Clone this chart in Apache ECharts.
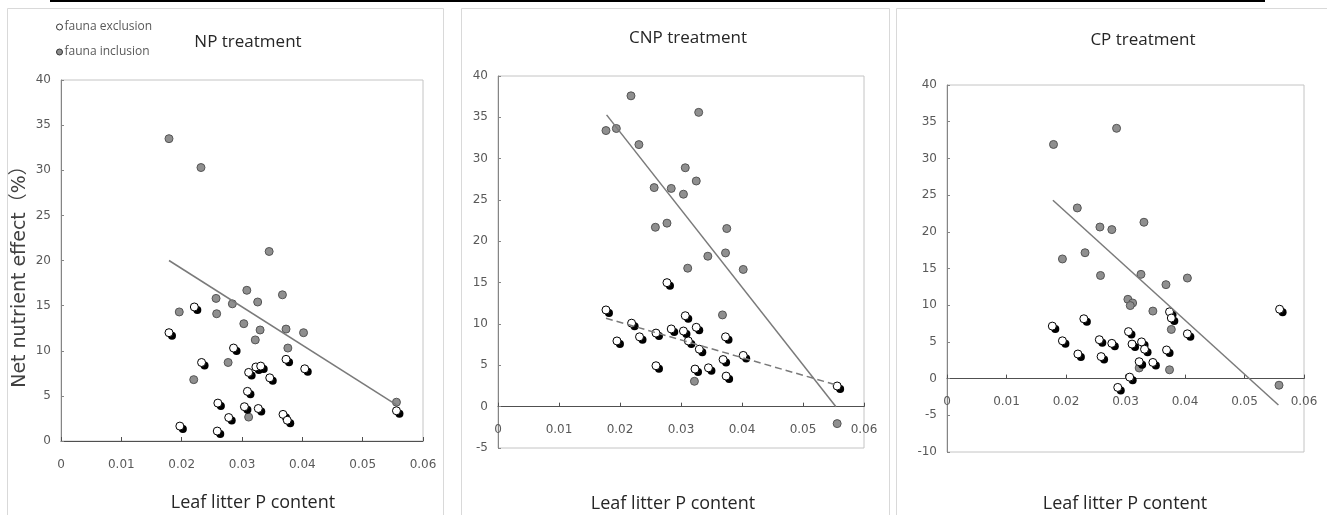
<!DOCTYPE html>
<html>
<head>
<meta charset="utf-8">
<script src="https://cdn.jsdelivr.net/npm/echarts@6/dist/echarts.min.js"></script>
<style>
  html, body { margin: 0; padding: 0; background: #fff; }
  #chart { width: 1327px; height: 515px; }
</style>
</head>
<body>
<div id="chart"></div>
<script>
// Leaf litter P content (x) vs net nutrient effect in % (y)
const panelTitles = ['NP treatment', 'CNP treatment', 'CP treatment'];
const xTitle = 'Leaf litter P content';
const yTitle = 'Net nutrient effect（%）';
const seriesNames = ['fauna exclusion', 'fauna inclusion'];

// NP treatment
const npInclusion = [
  [0.0179, 33.5], [0.0232, 30.3], [0.0345, 21.0], [0.0308, 16.7], [0.0257, 15.8],
  [0.0367, 16.2], [0.0196, 14.3], [0.0258, 14.1], [0.0284, 15.2], [0.0326, 15.4],
  [0.0303, 13.0], [0.0330, 12.3], [0.0373, 12.4], [0.0402, 12.0], [0.0322, 11.2],
  [0.0376, 10.3], [0.0277, 8.7], [0.0220, 6.8], [0.0556, 4.3], [0.0311, 2.65]
];
const npExclusion = [
  [0.0179, 12.0], [0.0221, 14.85], [0.0286, 10.3], [0.0233, 8.7], [0.0311, 7.6],
  [0.0323, 8.2], [0.0331, 8.3], [0.0346, 7.0], [0.0373, 9.05], [0.0404, 8.0],
  [0.0309, 5.5], [0.0260, 4.2], [0.0304, 3.8], [0.0327, 3.6], [0.0278, 2.6],
  [0.0368, 2.95], [0.0375, 2.3], [0.0197, 1.65], [0.0259, 1.1], [0.0556, 3.35]
];
const npInclusionFit = [[0.0179, 20.0], [0.0556, 4.0]];

// CNP treatment
const cnpInclusion = [
  [0.0177, 33.4], [0.0194, 33.65], [0.0218, 37.6], [0.0329, 35.6], [0.0231, 31.7],
  [0.0307, 28.9], [0.0325, 27.3], [0.0256, 26.5], [0.0284, 26.4], [0.0304, 25.7],
  [0.0258, 21.7], [0.0277, 22.2], [0.0375, 21.55], [0.0373, 18.6], [0.0344, 18.2],
  [0.0311, 16.75], [0.0402, 16.6], [0.0368, 11.1], [0.0322, 3.07], [0.0556, -2.05]
];
const cnpExclusion = [
  [0.0177, 11.7], [0.0277, 15.0], [0.0219, 10.1], [0.0195, 7.95], [0.0232, 8.45],
  [0.0259, 8.9], [0.0284, 9.4], [0.0304, 9.15], [0.0307, 11.0], [0.0325, 9.6],
  [0.0312, 7.95], [0.0330, 6.95], [0.0373, 8.45], [0.0402, 6.2], [0.0369, 5.7],
  [0.0259, 4.95], [0.0323, 4.55], [0.0345, 4.7], [0.0374, 3.7], [0.0556, 2.5]
];
const cnpInclusionFit = [[0.0178, 35.3], [0.0554, 0.0]];
const cnpExclusionFit = [[0.0177, 10.7], [0.0556, 2.6]];

// CP treatment
const cpInclusion = [
  [0.0179, 31.9], [0.0285, 34.1], [0.0219, 23.25], [0.0257, 20.65], [0.0277, 20.3],
  [0.0331, 21.3], [0.0194, 16.3], [0.0232, 17.15], [0.0258, 14.05], [0.0326, 14.2],
  [0.0368, 12.8], [0.0404, 13.7], [0.0304, 10.8], [0.0312, 10.3], [0.0308, 9.95],
  [0.0346, 9.2], [0.0377, 6.7], [0.0323, 1.45], [0.0374, 1.2], [0.0558, -0.9]
];
const cpExclusion = [
  [0.0177, 7.15], [0.0194, 5.15], [0.0230, 8.15], [0.0220, 3.35], [0.0256, 5.3],
  [0.0259, 3.0], [0.0277, 4.8], [0.0305, 6.4], [0.0311, 4.7], [0.0327, 5.0],
  [0.0332, 4.0], [0.0323, 2.3], [0.0346, 2.2], [0.0369, 3.9], [0.0374, 9.1],
  [0.0377, 8.25], [0.0404, 6.1], [0.0307, 0.2], [0.0287, -1.2], [0.0559, 9.45]
];
const cpInclusionFit = [[0.0178, 24.3], [0.0557, -3.6]];

// Axis ranges
const xRange = { min: 0, max: 0.06, interval: 0.01 };
const yMins = [0, -5, -10];
const yMax = 40;
const yInterval = 5;

// x tick labels sit just under the zero line, which is the frame bottom only in the first panel
const panels = [
  { title: panelTitles[0], incl: npInclusion, excl: npExclusion, fits: [{ data: npInclusionFit, dashed: false }],
    grid: { left: 61, top: 80, width: 362, height: 361 }, xLabelMargin: 18, titlePos: [248, 42], xTitlePos: [253, 503] },
  { title: panelTitles[1], incl: cnpInclusion, excl: cnpExclusion,
    fits: [{ data: cnpInclusionFit, dashed: false }, { data: cnpExclusionFit, dashed: true }],
    grid: { left: 498, top: 76, width: 366, height: 372 }, xLabelMargin: -24, titlePos: [688, 38], xTitlePos: [673, 504] },
  { title: panelTitles[2], incl: cpInclusion, excl: cpExclusion, fits: [{ data: cpInclusionFit, dashed: false }],
    grid: { left: 947, top: 85, width: 357, height: 367 }, xLabelMargin: -56, titlePos: [1143, 40], xTitlePos: [1125, 504] }
];

const tickFont = { fontFamily: 'DejaVu Sans', fontSize: 12, color: '#595959' };

const grids = [], xAxes = [], yAxes = [], series = [];
panels.forEach((p, i) => {
  grids.push(Object.assign({ show: true, borderColor: '#c4c4c4', borderWidth: 1, backgroundColor: 'transparent' }, p.grid));
  xAxes.push({
    type: 'value', gridIndex: i, min: xRange.min, max: xRange.max, interval: xRange.interval,
    axisLine: { onZero: true, lineStyle: { color: '#505050', width: 1 } },
    axisTick: { inside: true, length: 4, lineStyle: { color: '#505050' } },
    axisLabel: Object.assign({ margin: p.xLabelMargin, formatter: v => String(+v.toFixed(2)) }, tickFont),
    splitLine: { show: false }
  });
  yAxes.push({
    type: 'value', gridIndex: i, min: yMins[i], max: yMax, interval: yInterval,
    axisLine: { show: true, onZero: false, lineStyle: { color: '#858585', width: 1 } },
    axisTick: { show: true, inside: true, length: 3, lineStyle: { color: '#858585' } },
    axisLabel: Object.assign({ margin: 10 }, tickFont),
    splitLine: { show: false }
  });
  series.push({
    name: seriesNames[1], type: 'scatter', xAxisIndex: i, yAxisIndex: i, data: p.incl,
    symbol: 'circle', symbolSize: 8, z: 2,
    itemStyle: { color: '#8f8f8f', borderColor: '#555555', borderWidth: 1, opacity: 1 }
  });
  series.push({
    name: seriesNames[0], type: 'scatter', xAxisIndex: i, yAxisIndex: i, data: p.excl,
    symbol: 'circle', symbolSize: 8, z: 4,
    itemStyle: { color: '#ffffff', borderColor: '#000000', borderWidth: 1, opacity: 1 }
  });
  // dark offset disc under each exclusion marker
  series.push({
    name: seriesNames[0], type: 'scatter', xAxisIndex: i, yAxisIndex: i, data: p.excl,
    symbol: 'circle', symbolSize: 8, symbolOffset: [3, 3], z: 3, silent: true,
    itemStyle: { color: '#000000', borderWidth: 0, opacity: 1 }
  });
  p.fits.forEach(f => {
    series.push({
      type: 'line', xAxisIndex: i, yAxisIndex: i, data: f.data, showSymbol: false, symbol: 'none',
      silent: true, z: 5,
      lineStyle: { color: '#7a7a7a', width: 1.5, type: f.dashed ? [7, 4] : 'solid' }
    });
  });
});

const graphics = [
  // rule across the top
  { type: 'rect', shape: { x: 50, y: 0, width: 1215, height: 2 }, style: { fill: '#000' }, silent: true },
  // panel frames
  { type: 'rect', shape: { x: 7.5, y: 8.5, width: 436, height: 520 }, style: { fill: 'none', stroke: '#d9d9d9', lineWidth: 1 }, silent: true },
  { type: 'rect', shape: { x: 461.5, y: 8.5, width: 428, height: 520 }, style: { fill: 'none', stroke: '#d9d9d9', lineWidth: 1 }, silent: true },
  { type: 'rect', shape: { x: 896.5, y: 8.5, width: 440, height: 520 }, style: { fill: 'none', stroke: '#d9d9d9', lineWidth: 1 }, silent: true },
  // y axis title
  { type: 'text', x: 20, y: 272, rotation: Math.PI / 2,
    style: { text: yTitle, fontFamily: 'DejaVu Sans, Noto Sans CJK SC', fontSize: 19, fill: '#404040', align: 'center', verticalAlign: 'middle' }, silent: true }
];
panels.forEach(p => {
  graphics.push({ type: 'text', x: p.titlePos[0], y: p.titlePos[1],
    style: { text: p.title, fontFamily: 'Open Sans', fontSize: 17, fill: '#262626', align: 'center', verticalAlign: 'middle' }, silent: true });
  graphics.push({ type: 'text', x: p.xTitlePos[0], y: p.xTitlePos[1],
    style: { text: xTitle, fontFamily: 'Open Sans', fontSize: 18, fill: '#262626', align: 'center', verticalAlign: 'middle' }, silent: true });
});

const chart = echarts.init(document.getElementById('chart'), null, { renderer: 'canvas' });
chart.setOption({
  animation: false,
  backgroundColor: '#ffffff',
  legend: {
    orient: 'vertical', left: 51, top: 16, itemWidth: 6, itemHeight: 6, itemGap: 13,
    selectedMode: false,
    textStyle: { fontFamily: 'Open Sans', fontSize: 12, color: '#595959', padding: [0, 0, 0, -3] },
    data: [
      { name: seriesNames[0], icon: 'circle', itemStyle: { color: '#ffffff', borderColor: '#333', borderWidth: 1 } },
      { name: seriesNames[1], icon: 'circle', itemStyle: { color: '#8f8f8f', borderColor: '#333', borderWidth: 1 } }
    ]
  },
  grid: grids,
  xAxis: xAxes,
  yAxis: yAxes,
  series: series,
  graphic: graphics
});
</script>
</body>
</html>
